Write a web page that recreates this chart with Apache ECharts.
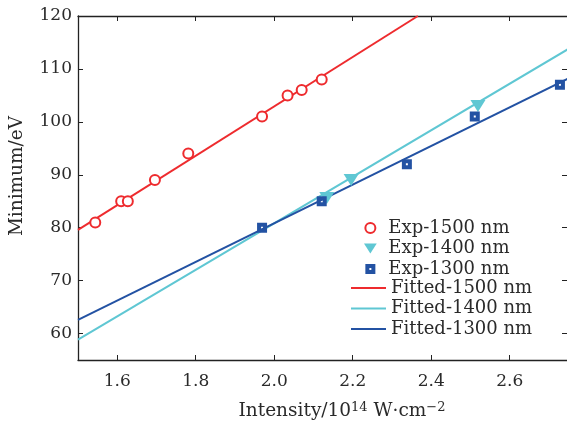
<!DOCTYPE html>
<html>
<head>
<meta charset="utf-8">
<script src="https://cdn.jsdelivr.net/npm/echarts@6/dist/echarts.min.js"></script>
<style>html,body{margin:0;padding:0;background:#fff}#c{width:567px;height:426px}</style>
</head>
<body>
<div id="c"></div>
<script>
// ---- data ----
var exp1500X = [1.544, 1.61, 1.627, 1.696, 1.781, 1.969, 2.034, 2.07, 2.121];
var exp1500Y = [81, 85, 85, 89, 94, 101, 105, 106, 108];
var exp1400X = [2.134, 2.196, 2.519];
var exp1400Y = [85.6, 89, 103];
var exp1300X = [1.969, 2.121, 2.338, 2.511, 2.728];
var exp1300Y = [80, 85, 92, 101, 107];
// fitted lines: end points
var fit1500X = [1.5, 2.366];
var fit1500Y = [79.6, 120];
var fit1400X = [1.5, 2.75];
var fit1400Y = [58.85, 113.8];
var fit1300X = [1.5, 2.75];
var fit1300Y = [62.6, 108.2];
var xTicks = [1.6, 1.8, 2.0, 2.2, 2.4, 2.6];
var yTicks = [60, 70, 80, 90, 100, 110, 120];
var expNames = ['Exp-1500 nm', 'Exp-1400 nm', 'Exp-1300 nm'];
var fitNames = ['Fitted-1500 nm', 'Fitted-1400 nm', 'Fitted-1300 nm'];

function pairs(xs, ys) { return xs.map(function (x, i) { return [x, ys[i]]; }); }

var FONT = 'DejaVu Serif';
var FS = 17, FS_NAME = 18.5, FS_LEG = 18;
var TXT = '#2a2a2a';
var RED = '#ee2b2e', CYAN = '#5fc7d3', BLUE = '#2352a3';
var SQUARE = 'path://M0,0H10V10H0Z M4,4V6H6V4Z';
var TRI = 'path://M0,0H14L7,11Z';
var chart = echarts.init(document.getElementById('c'), null, {renderer: 'canvas'});
var axisLine = {show: true, lineStyle: {color: '#222', width: 1.3}};
var tick = {show: true, inside: true, length: 5, lineStyle: {color: '#222', width: 1}};
chart.setOption({
  animation: false,
  backgroundColor: '#fff',
  textStyle: {fontFamily: FONT},
  grid: {left: 78, top: 16, right: 0, bottom: 65, containLabel: false},
  legend: [{
    orient: 'vertical', left: 359, top: 214,
    itemWidth: 14, itemHeight: 10, itemGap: 2.5,
    textStyle: {fontFamily: FONT, fontSize: FS_LEG, color: TXT, padding: [0, 0, 0, 6]},
    data: [
      {name: expNames[0], icon: 'emptyCircle'},
      {name: expNames[1], icon: TRI},
      {name: expNames[2], icon: SQUARE}
    ]
  }, {
    orient: 'vertical', left: 346, top: 274,
    itemWidth: 35, itemHeight: 2, itemGap: 2.5,
    textStyle: {fontFamily: FONT, fontSize: FS_LEG, color: TXT},
    data: fitNames.map(function (n) { return {name: n, icon: 'rect'}; })
  }],
  xAxis: [{
    type: 'value', min: 1.5, max: 2.746, position: 'bottom',
    axisLine: axisLine, splitLine: {show: false},
    axisTick: Object.assign({customValues: xTicks}, tick),
    axisLabel: {customValues: xTicks, margin: 13, fontSize: FS, color: TXT, fontFamily: FONT,
      formatter: function (v) { return v.toFixed(1); }},
    name: 'Intensity/10{sup|14} W·cm{sup|−2}', nameLocation: 'middle', nameGap: 41,
    nameTextStyle: {fontSize: FS_NAME, color: TXT, fontFamily: FONT, padding: [0, 0, 0, 39],
      rich: {sup: {fontSize: 13, fontFamily: FONT, color: TXT, verticalAlign: 'top', padding: [0, 0, 8, 0]}}}
  }, {
    type: 'value', min: 1.5, max: 2.746, position: 'top',
    axisLine: axisLine, splitLine: {show: false},
    axisTick: Object.assign({customValues: xTicks}, tick),
    axisLabel: {show: false}
  }],
  yAxis: [{
    type: 'value', min: 55, max: 120, position: 'left',
    axisLine: axisLine, splitLine: {show: false},
    axisTick: Object.assign({customValues: yTicks}, tick),
    axisLabel: {customValues: yTicks, margin: 6, fontSize: FS, color: TXT, fontFamily: FONT},
    name: 'Minimum/eV', nameLocation: 'middle', nameGap: 51, nameRotate: 90,
    nameTextStyle: {fontSize: FS_NAME, color: TXT, fontFamily: FONT, padding: [0, 0, 0, 24]}
  }, {
    type: 'value', min: 55, max: 120, position: 'right',
    axisLine: {show: false}, splitLine: {show: false},
    axisTick: Object.assign({customValues: yTicks}, tick),
    axisLabel: {show: false}
  }],
  series: [
    {name: fitNames[0], type: 'line', data: pairs(fit1500X, fit1500Y), symbol: 'none', z: 2,
      lineStyle: {color: RED, width: 2}, itemStyle: {color: RED}},
    {name: fitNames[1], type: 'line', data: pairs(fit1400X, fit1400Y), symbol: 'none', z: 2,
      lineStyle: {color: CYAN, width: 2}, itemStyle: {color: CYAN}},
    {name: fitNames[2], type: 'line', data: pairs(fit1300X, fit1300Y), symbol: 'none', z: 2,
      lineStyle: {color: BLUE, width: 2}, itemStyle: {color: BLUE}},
    {name: expNames[0], type: 'scatter', data: pairs(exp1500X, exp1500Y), symbol: 'emptyCircle', symbolSize: 10, z: 3,
      itemStyle: {color: RED, borderColor: RED, borderWidth: 1.8, opacity: 1}},
    {name: expNames[1], type: 'scatter', data: pairs(exp1400X, exp1400Y), symbol: TRI,
      symbolSize: [15, 12], z: 3, itemStyle: {color: CYAN, opacity: 1}},
    {name: expNames[2], type: 'scatter', data: pairs(exp1300X, exp1300Y), symbol: SQUARE, symbolSize: 10, z: 4,
      itemStyle: {color: BLUE, opacity: 1}}
  ]
});
</script>
</body>
</html>
